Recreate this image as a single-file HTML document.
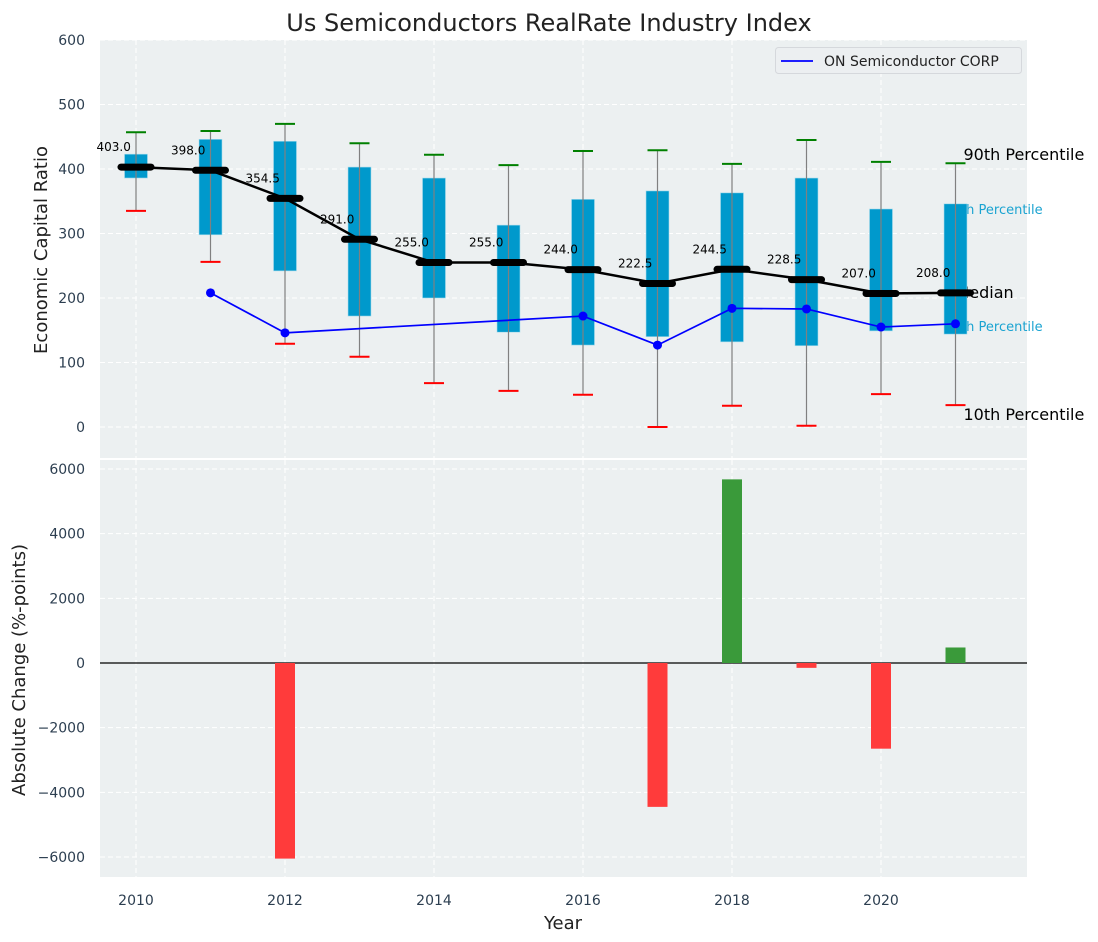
<!DOCTYPE html>
<html><head><meta charset="utf-8"><style>
body{margin:0;background:#fff;}
svg{display:block;font-family:"DejaVu Sans","Liberation Sans",sans-serif;}
</style></head><body>
<svg id="c" width="1098" height="942" xmlns="http://www.w3.org/2000/svg"></svg>
<script>
const years=[2010,2011,2012,2013,2014,2015,2016,2017,2018,2019,2020,2021];
const p90=[457,459,470,440,422,406,428,429,408,445,411,409];
const q3=[423,446,443,403,386,313,353,366,363,386,338,346];
const medians=[403,398,354.5,291,255,255,244,222.5,244.5,228.5,207,208];
const q1=[386,298,242,172,200,147,127,140,132,126,149,144];
const p10=[335,256,129,109,68,56,50,0,33,2,51,34];
const onYears=[2011,2012,2016,2017,2018,2019,2020,2021];
const onValues=[208,146,172,127,184,183,155,160];
const chgYears=[2012,2017,2018,2019,2020,2021];
const chgValues=[-6050,-4450,5680,-150,-2650,480];
const topTicks=[0,100,200,300,400,500,600];
const botTicks=[-6000,-4000,-2000,0,2000,4000,6000];
const xTicks=[2010,2012,2014,2016,2018,2020];

const svg=document.getElementById('c');
const NS='http://www.w3.org/2000/svg';
function el(t,a,p){const e=document.createElementNS(NS,t);for(const k in a)e.setAttribute(k,a[k]);(p||svg).appendChild(e);return e;}
function tx(x,y,s,a,p){const e=el('text',Object.assign({x:x,y:y},a),p);e.textContent=s;return e;}
const L=100,R=1027;
const X=v=>136+(v-2010)*74.5;
const YT=v=>427-v*0.645;
const YB=v=>663-v*0.03233;
const PW=74.5;

let g=el('rect',{x:L,y:40,width:R-L,height:418,fill:'#ecf0f1'});

g=el('rect',{x:L,y:460,width:R-L,height:417,fill:'#ecf0f1'});


xTicks.forEach(v=>{el('line',{x1:X(v),x2:X(v),y1:40,y2:458,stroke:'#fff','stroke-dasharray':'5,3','stroke-width':1});el('line',{x1:X(v),x2:X(v),y1:460,y2:877,stroke:'#fff','stroke-dasharray':'5,3','stroke-width':1});});
topTicks.forEach(v=>{el('line',{x1:L,x2:R,y1:YT(v),y2:YT(v),stroke:'#fff','stroke-dasharray':'5,3'});
 const t=tx(85,YT(v)+5,String(v),{'text-anchor':'end','font-size':14,fill:'#2c3e50'});});
botTicks.forEach(v=>{el('line',{x1:L,x2:R,y1:YB(v),y2:YB(v),stroke:'#fff','stroke-dasharray':'5,3'});
 const t=tx(85,YB(v)+5,String(v).replace('-','\u2212'),{'text-anchor':'end','font-size':14,fill:'#2c3e50'});});
xTicks.forEach(v=>{const t=tx(X(v),905,String(v),{'text-anchor':'middle','font-size':14,fill:'#2c3e50'});});

const lx=X(2021);
[['90th Percentile',lx+8,160,16,'#000'],['75th Percentile',lx-11,214,13,'#1aa3d1'],['Median',lx,298,16,'#000'],['25th Percentile',lx-11,331,13,'#1aa3d1'],['10th Percentile',lx+8,420,16,'#000']].forEach(a=>{
 const t=tx(a[1],a[2],a[0],{'font-size':a[3],fill:a[4]});});

years.forEach((y,i)=>{
 const x=X(y);
 let r=el('rect',{x:x-11.5,y:YT(q3[i]),width:23,height:YT(q1[i])-YT(q3[i]),fill:'#0099cc',stroke:'#a8dcec','stroke-width':0.6});
 
 el('line',{x1:x,x2:x,y1:YT(p90[i]),y2:YT(p10[i]),stroke:'#808080','stroke-width':1.2});
 let a=el('line',{x1:x-10,x2:x+10,y1:YT(p90[i]),y2:YT(p90[i]),stroke:'green','stroke-width':2});
 
 let b=el('line',{x1:x-10,x2:x+10,y1:YT(p10[i]),y2:YT(p10[i]),stroke:'red','stroke-width':2});
 
});
let pts=years.map((y,i)=>X(y)+','+YT(medians[i])).join(' ');
let ml=el('polyline',{points:pts,fill:'none',stroke:'#000','stroke-width':2.5});

years.forEach((y,i)=>{
 let m=el('line',{x1:X(y)-15,x2:X(y)+15,y1:YT(medians[i]),y2:YT(medians[i]),stroke:'#000','stroke-width':7,'stroke-linecap':'round'});
 
 let t=tx(X(y)-0.3*PW,YT(medians[i])-16,medians[i].toFixed(1),{'text-anchor':'middle','font-size':12,fill:'#000'});
 
});
let op=onYears.map((y,i)=>X(y)+','+YT(onValues[i])).join(' ');
let ol=el('polyline',{points:op,fill:'none',stroke:'#0000ff','stroke-width':1.7});

onYears.forEach((y,i)=>{let c=el('circle',{cx:X(y),cy:YT(onValues[i]),r:4.5,fill:'#0000ff'});});

el('line',{x1:L,x2:R,y1:YB(0),y2:YB(0),stroke:'#000','stroke-width':1.2});
chgYears.forEach((y,i)=>{const v=chgValues[i];
 let r=el('rect',{x:X(y)-10,y:Math.min(YB(v),YB(0)),width:20,height:Math.abs(YB(v)-YB(0)),fill:v>=0?'#3a9a3a':'#ff3b3b'});
 });

let lg=el('g',{});
el('rect',{x:775.5,y:47.5,width:246,height:26,rx:3,fill:'#eceff1',stroke:'#d5d8dc'},lg);
el('line',{x1:781,x2:813,y1:61,y2:61,stroke:'#0000ff','stroke-width':1.7},lg);
tx(824,66,'ON Semiconductor CORP',{'font-size':14,fill:'#222'},lg);

let t=tx(549,31,'Us Semiconductors RealRate Industry Index',{'text-anchor':'middle','font-size':24,fill:'#222'});
t=tx(563,929,'Year',{'text-anchor':'middle','font-size':18,fill:'#222'});
t=tx(0,0,'Economic Capital Ratio',{'text-anchor':'middle','font-size':18,fill:'#222',transform:'translate(47,250) rotate(-90)'});
t=tx(0,0,'Absolute Change (%-points)',{'text-anchor':'middle','font-size':18,fill:'#222',transform:'translate(25,670) rotate(-90)'});
</script>
</body></html>
